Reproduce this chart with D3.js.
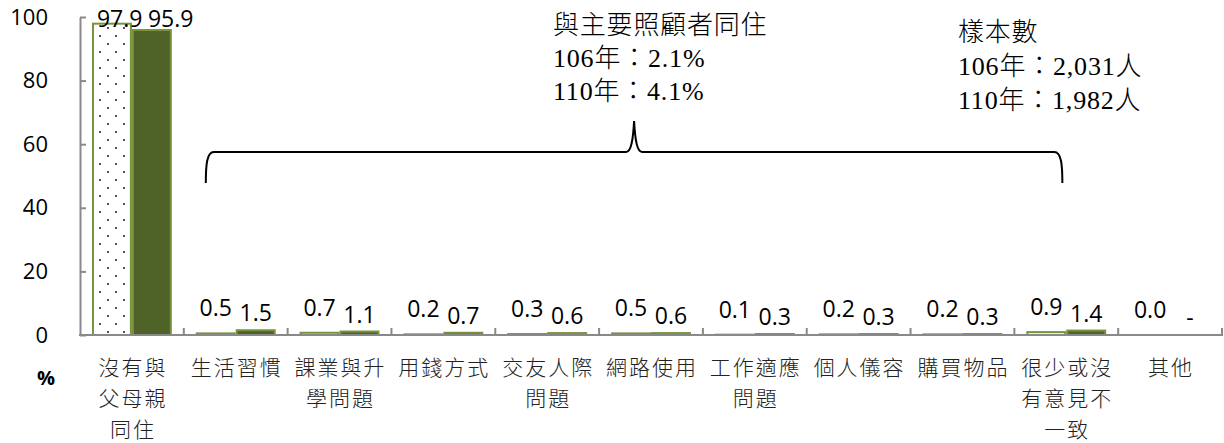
<!DOCTYPE html>
<html>
<head>
<meta charset="utf-8">
<script src="https://cdn.jsdelivr.net/npm/d3@7"></script>
<style>
    body { margin: 0; background: #fff; }
    svg { display: block; }
    .val { font-family: "Open Sans", Lato, sans-serif; font-size: 23px; fill: #000; }
    .ytick { font-family: "Open Sans", Lato, sans-serif; font-size: 22px; fill: #000; }
    .cat { font-family: "Noto Sans CJK TC", sans-serif; font-size: 21px; letter-spacing: 2px; fill: #222; font-weight: 300; }
    .note { font-family: "Liberation Serif", "Noto Sans CJK TC", serif; font-size: 26px; letter-spacing: 0.8px; fill: #000; font-weight: 300; }
</style>
</head>
<body>
<svg id="chart" width="1224" height="443"></svg>
<script>
const categories = ["沒有與父母親同住", "生活習慣", "課業與升學問題", "用錢方式", "交友人際問題", "網路使用", "工作適應問題", "個人儀容", "購買物品", "很少或沒有意見不一致", "其他"];
const catLines = [["沒有與", "父母親", "同住"], ["生活習慣"], ["課業與升", "學問題"], ["用錢方式"], ["交友人際", "問題"], ["網路使用"], ["工作適應", "問題"], ["個人儀容"], ["購買物品"], ["很少或沒", "有意見不", "一致"], ["其他"]];
const years = ["106年", "110年"];
const values106 = [97.9, 0.5, 0.7, 0.2, 0.3, 0.5, 0.1, 0.2, 0.2, 0.9, 0.0];
const values110 = [95.9, 1.5, 1.1, 0.7, 0.6, 0.6, 0.3, 0.3, 0.3, 1.4, null];
const yTicks = [0, 20, 40, 60, 80, 100];
const noteLeft = ["與主要照顧者同住", "106年：2.1%", "110年：4.1%"];
const noteRight = ["樣本數", "106年：2,031人", "110年：1,982人"];

const svg = d3.select("#chart");

// pattern for the 106 bars
const defs = svg.append("defs");
const pat = defs.append("pattern")
    .attr("id", "dots")
    .attr("patternUnits", "userSpaceOnUse")
    .attr("width", 16)
    .attr("height", 16);
pat.append("rect").attr("width", 16).attr("height", 16).attr("fill", "#fff");
pat.append("circle").attr("cx", 4).attr("cy", 4).attr("r", 0.9).attr("fill", "#000");
pat.append("circle").attr("cx", 12).attr("cy", 12).attr("r", 0.9).attr("fill", "#000");

// scales
const xScale = d3.scaleBand()
    .domain(categories)
    .range([80, 1222]);
const xSub = d3.scaleBand()
    .domain(years)
    .range([0, xScale.bandwidth()])
    .paddingOuter(0.3);
const yScale = d3.scaleLinear()
    .domain([0, 100])
    .range([335, 17]);
const labelTop = 27;

const rows = categories.map(function(c, i) {
    return { cat: c, vals: [values106[i], values110[i]] };
});

// bars
const groups = svg.append("g")
    .selectAll("g")
    .data(rows)
    .join("g")
    .attr("transform", function(d) { return "translate(" + xScale(d.cat) + ",0)"; });

groups.selectAll("rect")
    .data(function(d) {
        return d.vals.map(function(v, j) { return { year: years[j], v: v }; })
            .filter(function(e) { return e.v !== null; });
    })
    .join("rect")
    .attr("x", function(d) { return xSub(d.year) + 1; })
    .attr("y", function(d) { return yScale(d.v); })
    .attr("width", xSub.bandwidth() - 2)
    .attr("height", function(d) { return yScale(0) - yScale(d.v); })
    .attr("fill", function(d) { return d.year === years[0] ? "url(#dots)" : "#4F6228"; })
    .attr("stroke", "#77933C")
    .attr("stroke-width", 2);

// value labels (labels pushed against the top edge slide right so they don't collide)
function labelY(d) {
    const v = d.v === null ? 0 : d.v;
    const off = d.year === years[0] ? 17 : 9;
    return yScale(v) - off;
}
groups.selectAll("text")
    .data(function(d) {
        return d.vals.map(function(v, j) { return { year: years[j], v: v }; });
    })
    .join("text")
    .attr("class", "val")
    .attr("text-anchor", function(d) { return labelY(d) < labelTop ? "start" : "middle"; })
    .attr("x", function(d) {
        if (labelY(d) < labelTop) return xSub(d.year) + (d.year === years[0] ? 5 : 16);
        return xSub(d.year) + xSub.bandwidth() / 2;
    })
    .attr("y", function(d) { return Math.max(labelY(d), labelTop); })
    .text(function(d) { return d.v === null ? "-" : d3.format(".1f")(d.v); });

// y axis
const yAxis = svg.append("g")
    .attr("transform", "translate(80,0)")
    .call(d3.axisLeft(yScale).tickValues(yTicks).tickSizeInner(-6).tickSizeOuter(0).tickPadding(32));
yAxis.select(".domain").attr("stroke", "#898989").attr("stroke-width", 2);
yAxis.selectAll(".tick line").attr("stroke", "#898989").attr("stroke-width", 2);
yAxis.selectAll(".tick text").attr("class", "ytick").attr("font-size", null).attr("font-family", null);

// x axis line and band boundary ticks
svg.append("line")
    .attr("x1", 79).attr("x2", 1223)
    .attr("y1", yScale(0)).attr("y2", yScale(0))
    .attr("stroke", "#898989").attr("stroke-width", 2);
const bounds = categories.slice(1).map(function(c) { return xScale(c); }).concat([xScale.range()[1]]);
svg.append("g")
    .selectAll("line")
    .data(bounds)
    .join("line")
    .attr("x1", function(d) { return d; })
    .attr("x2", function(d) { return d; })
    .attr("y1", yScale(0))
    .attr("y2", yScale(0) - 7)
    .attr("stroke", "#898989")
    .attr("stroke-width", 2);

// category labels
const catG = svg.append("g")
    .selectAll("text")
    .data(categories)
    .join("text")
    .attr("class", "cat")
    .attr("text-anchor", "middle")
    .attr("x", function(d) { return xScale(d) + xScale.bandwidth() / 2 + 1; })
    .attr("y", 375);
catG.selectAll("tspan")
    .data(function(d, i) { return catLines[i]; })
    .join("tspan")
    .attr("x", function() { return d3.select(this.parentNode).attr("x"); })
    .attr("dy", function(d, i) { return i === 0 ? 0 : 31; })
    .text(function(d) { return d; });

// unit
svg.append("text")
    .attr("x", 46)
    .attr("y", 385)
    .attr("text-anchor", "middle")
    .attr("font-family", "'Open Sans', sans-serif")
    .attr("font-size", 20)
    .attr("font-weight", "bold")
    .text("%");

// brace over the small categories
const bl = xScale(categories[1]) + 22;
const br = xScale(categories[9]) + 48;
const bm = (bl + br) / 2;
const by0 = 183, by1 = 152, by2 = 121;
svg.append("path")
    .attr("d",
        "M" + bl + "," + by0 +
        " C" + bl + "," + (by0 - 18) + " " + (bl + 1) + "," + by1 + " " + (bl + 8) + "," + by1 +
        " H" + (bm - 8) +
        " C" + (bm - 3) + "," + by1 + " " + (bm - 1) + "," + (by1 - 12) + " " + bm + "," + by2 +
        " C" + (bm + 1) + "," + (by1 - 12) + " " + (bm + 3) + "," + by1 + " " + (bm + 8) + "," + by1 +
        " H" + (br - 8) +
        " C" + (br - 1) + "," + by1 + " " + br + "," + (by0 - 18) + " " + br + "," + by0)
    .attr("fill", "none")
    .attr("stroke", "#000")
    .attr("stroke-width", 2);

// notes
svg.append("g")
    .selectAll("text")
    .data(noteLeft)
    .join("text")
    .attr("class", "note")
    .attr("x", 553)
    .attr("y", function(d, i) { return 34 + i * 33; })
    .text(function(d) { return d; });
svg.append("g")
    .selectAll("text")
    .data(noteRight)
    .join("text")
    .attr("class", "note")
    .attr("x", 958)
    .attr("y", function(d, i) { return 41 + i * 34; })
    .text(function(d) { return d; });
</script>
</body>
</html>
